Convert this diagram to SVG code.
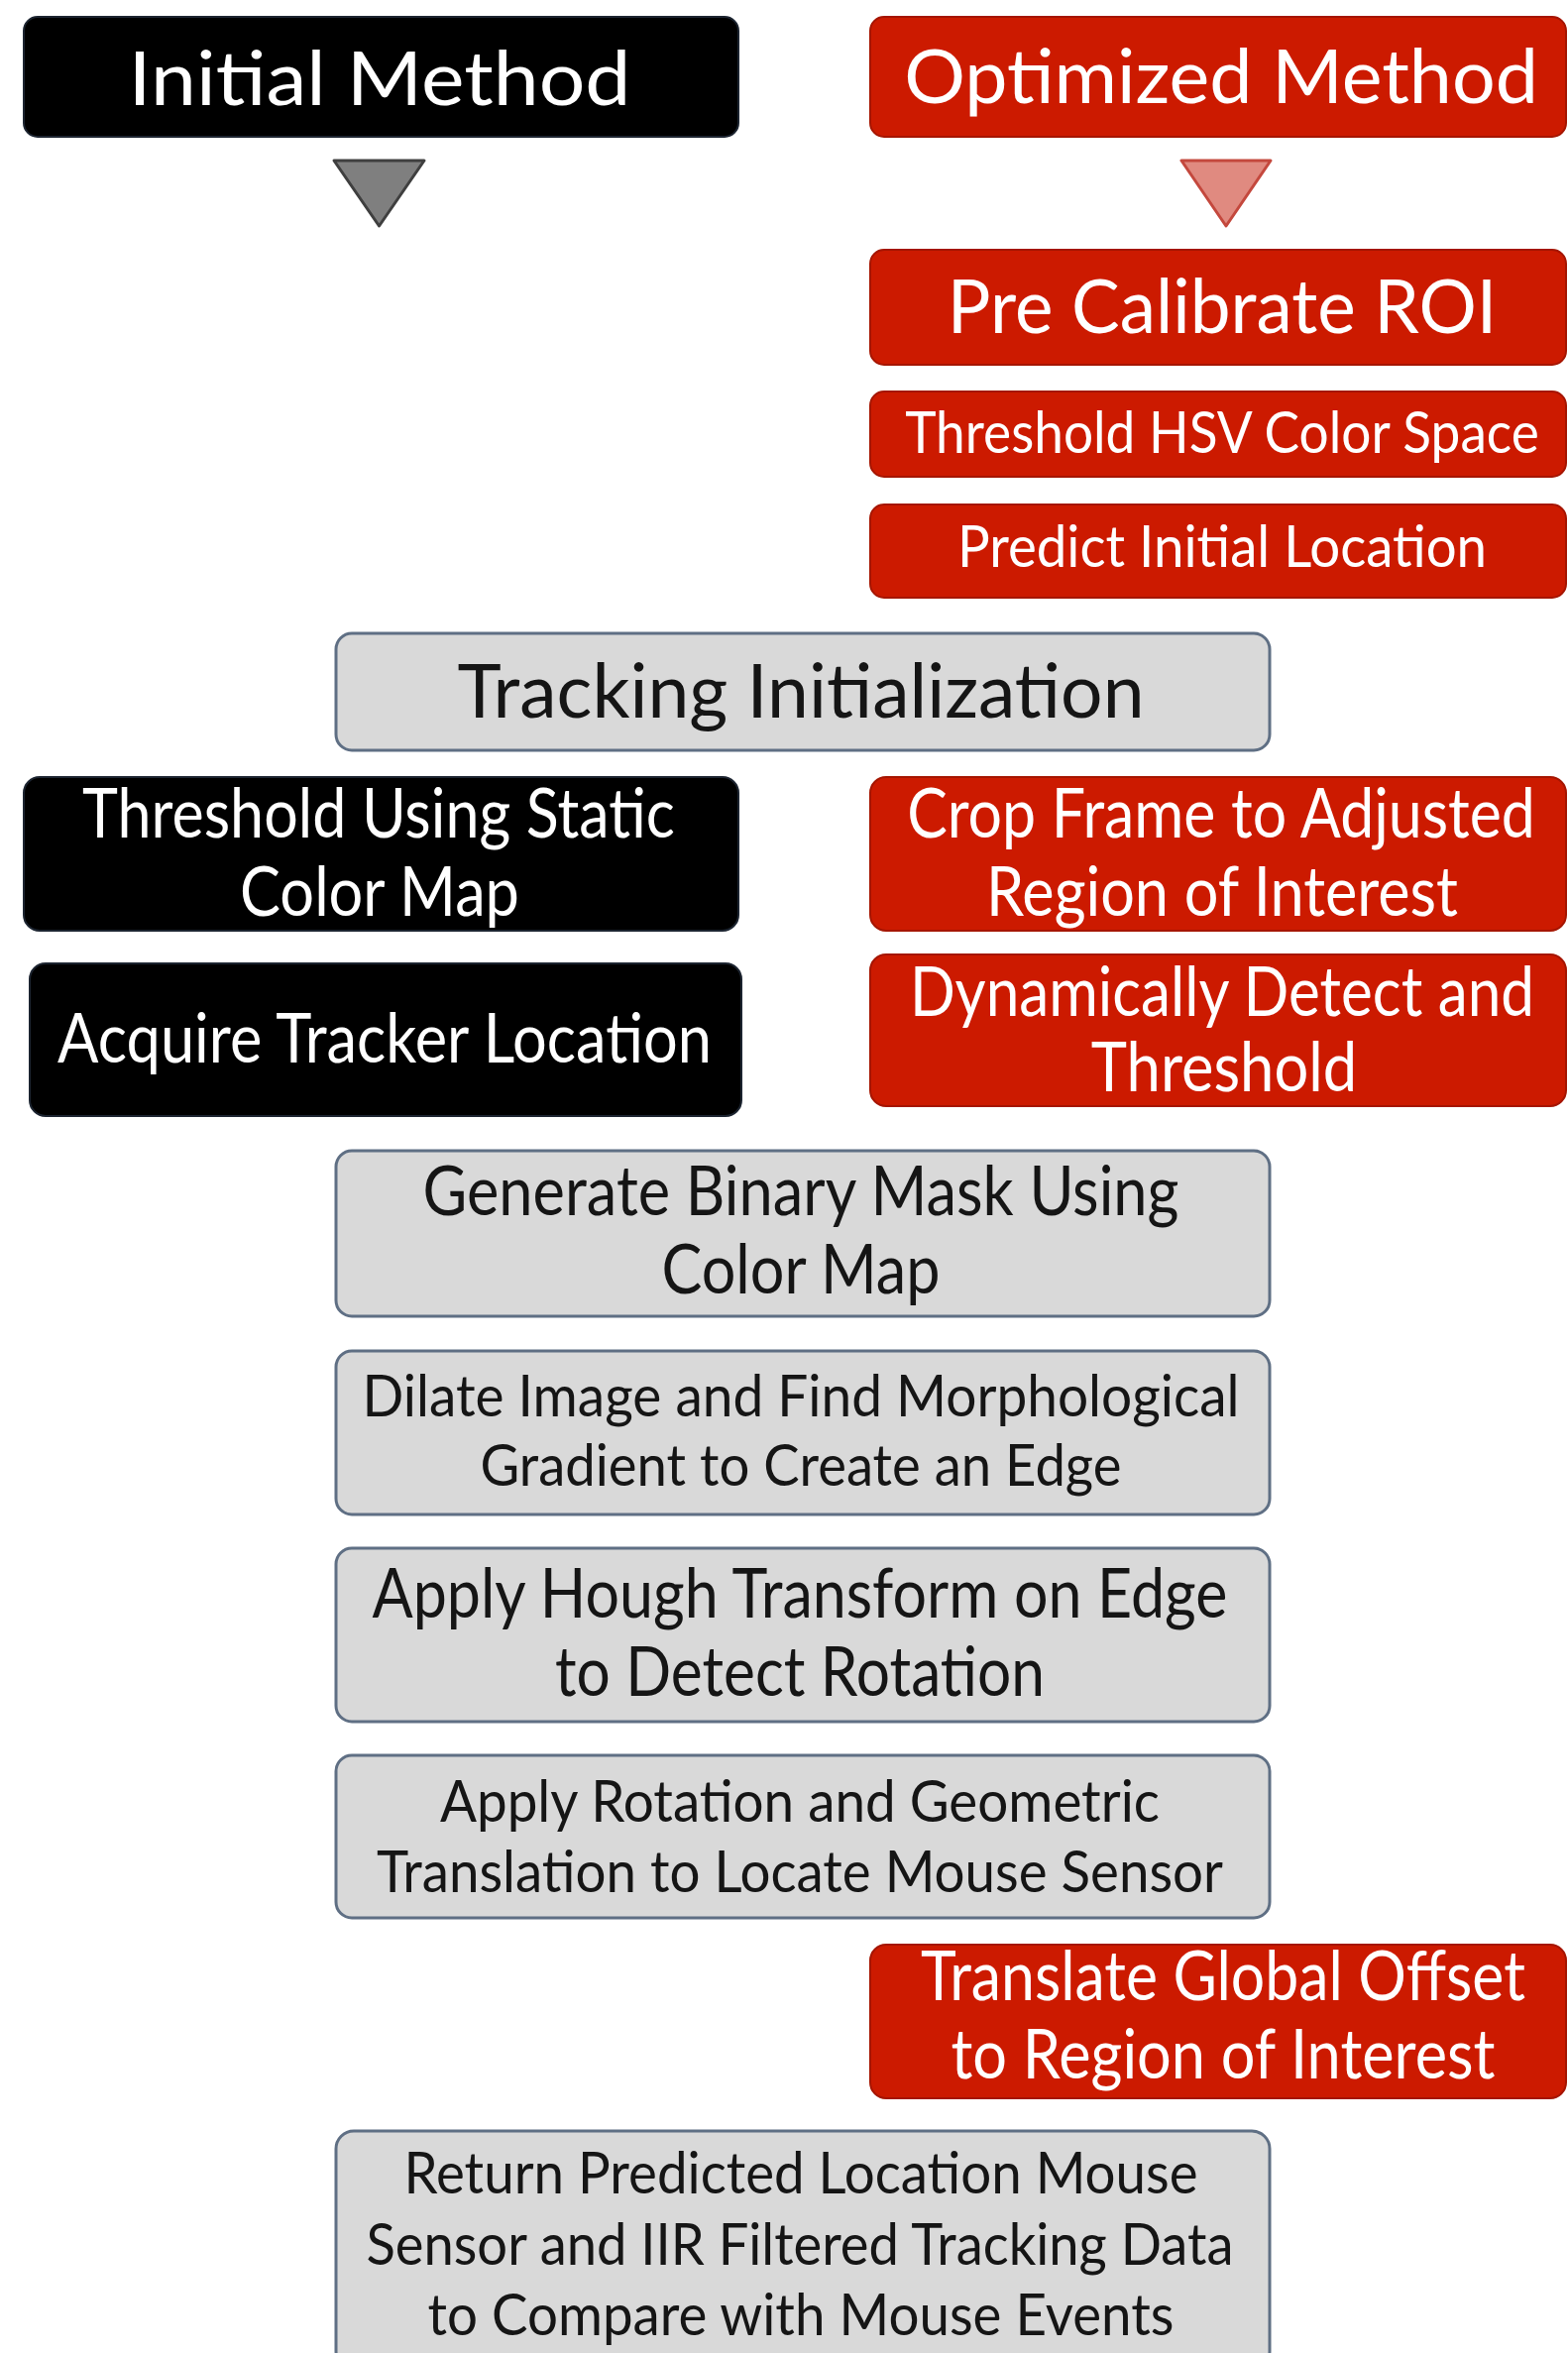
<svg xmlns="http://www.w3.org/2000/svg" width="1582" height="2374" viewBox="0 0 1582 2374">
<style>
.blk{fill:#000;stroke:#1c2430;stroke-width:2}
.red{fill:#CC1A00;stroke:#A51500;stroke-width:2}
.gry{fill:#D9D9D9;stroke:#5F6F84;stroke-width:3}
text{font-family:Lato,"Open Sans","Liberation Sans",sans-serif;text-anchor:middle}
.w{fill:#fff}
.k{fill:#151515}
.xl{font-size:75px}
.l{font-size:70px}
.m{font-size:58px}
</style>
<rect width="1582" height="2374" fill="#fff"/>
<g id="connectors">
<polygon points="337,162 428,162 382.5,228" fill="#7F7F7F" stroke="#3F3F3F" stroke-width="3" stroke-linejoin="round"/>
<polygon points="1192,162 1282,162 1237,228" fill="#E08A80" stroke="#C4483D" stroke-width="3" stroke-linejoin="round"/>
</g>
<g id="initial-method"><rect class="blk" x="24" y="17" width="721" height="121" rx="14"/><text class="w xl" x="383" y="106" textLength="507" lengthAdjust="spacingAndGlyphs">Initial Method</text></g>
<g id="optimized-method"><rect class="red" x="878" y="17" width="702" height="121" rx="14"/><text class="w xl" transform="translate(1232,104) scale(0.88,1)" x="0" y="0" textLength="727" lengthAdjust="spacingAndGlyphs">Optimized Method</text></g>
<g id="pre-calibrate-roi"><rect class="red" x="878" y="252" width="702" height="116" rx="14"/><text class="w xl" transform="translate(1233,336) scale(0.88,1)" x="0" y="0" textLength="630" lengthAdjust="spacingAndGlyphs">Pre Calibrate ROI</text></g>
<g id="threshold-hsv"><rect class="red" x="878" y="395" width="702" height="86" rx="14"/><text class="w m" transform="translate(1233,457) scale(0.88,1)" x="0" y="0" textLength="727" lengthAdjust="spacingAndGlyphs">Threshold HSV Color Space</text></g>
<g id="predict-initial-location"><rect class="red" x="878" y="509" width="702" height="94" rx="14"/><text class="w m" transform="translate(1233,572) scale(0.88,1)" x="0" y="0" textLength="607" lengthAdjust="spacingAndGlyphs">Predict Initial Location</text></g>
<g id="tracking-initialization"><rect class="gry" x="339" y="639" width="942" height="118" rx="16"/><text class="k xl" x="808" y="724" textLength="693" lengthAdjust="spacingAndGlyphs">Tracking Initialization</text></g>
<g id="threshold-static"><rect class="blk" x="24" y="784" width="721" height="155" rx="16"/><text class="w l" x="382" y="845" textLength="598" lengthAdjust="spacingAndGlyphs">Threshold Using Static</text><text class="w l" x="383" y="924" textLength="282" lengthAdjust="spacingAndGlyphs">Color Map</text></g>
<g id="acquire-tracker"><rect class="blk" x="30" y="972" width="718" height="154" rx="16"/><text class="w l" x="388" y="1072" textLength="660" lengthAdjust="spacingAndGlyphs">Acquire Tracker Location</text></g>
<g id="crop-frame"><rect class="red" x="878" y="784" width="702" height="155" rx="16"/><text class="w l" transform="translate(1232,845) scale(0.88,1)" x="0" y="0" textLength="720" lengthAdjust="spacingAndGlyphs">Crop Frame to Adjusted</text><text class="w l" transform="translate(1233,924) scale(0.88,1)" x="0" y="0" textLength="541" lengthAdjust="spacingAndGlyphs">Region of Interest</text></g>
<g id="dynamic-detect"><rect class="red" x="878" y="963" width="702" height="153" rx="16"/><text class="w l" transform="translate(1233,1025) scale(0.88,1)" x="0" y="0" textLength="716" lengthAdjust="spacingAndGlyphs">Dynamically Detect and</text><text class="w l" transform="translate(1235,1101) scale(0.88,1)" x="0" y="0" textLength="305" lengthAdjust="spacingAndGlyphs">Threshold</text></g>
<g id="binary-mask"><rect class="gry" x="339" y="1161" width="942" height="167" rx="16"/><text class="k l" x="808" y="1226" textLength="763" lengthAdjust="spacingAndGlyphs">Generate Binary Mask Using</text><text class="k l" x="808" y="1305" textLength="281" lengthAdjust="spacingAndGlyphs">Color Map</text></g>
<g id="dilate-image"><rect class="gry" x="339" y="1363" width="942" height="165" rx="16"/><text class="k m" x="808" y="1429" textLength="885" lengthAdjust="spacingAndGlyphs">Dilate Image and Find Morphological</text><text class="k m" x="808" y="1499" textLength="647" lengthAdjust="spacingAndGlyphs">Gradient to Create an Edge</text></g>
<g id="hough-transform"><rect class="gry" x="339" y="1562" width="942" height="175" rx="16"/><text class="k l" x="807" y="1632" textLength="863" lengthAdjust="spacingAndGlyphs">Apply Hough Transform on Edge</text><text class="k l" x="807" y="1711" textLength="494" lengthAdjust="spacingAndGlyphs">to Detect Rotation</text></g>
<g id="rotation-translation"><rect class="gry" x="339" y="1771" width="942" height="164" rx="16"/><text class="k m" x="807" y="1838" textLength="726" lengthAdjust="spacingAndGlyphs">Apply Rotation and Geometric</text><text class="k m" x="807" y="1909" textLength="854" lengthAdjust="spacingAndGlyphs">Translation to Locate Mouse Sensor</text></g>
<g id="global-offset"><rect class="red" x="878" y="1962" width="702" height="155" rx="16"/><text class="w l" transform="translate(1234,2018) scale(0.88,1)" x="0" y="0" textLength="693" lengthAdjust="spacingAndGlyphs">Translate Global Offset</text><text class="w l" transform="translate(1234,2097) scale(0.88,1)" x="0" y="0" textLength="624" lengthAdjust="spacingAndGlyphs">to Region of Interest</text></g>
<g id="return-predicted"><rect class="gry" x="339" y="2150" width="942" height="240" rx="18"/><text class="k m" x="808" y="2213" textLength="801" lengthAdjust="spacingAndGlyphs">Return Predicted Location Mouse</text><text class="k m" x="807" y="2285" textLength="875" lengthAdjust="spacingAndGlyphs">Sensor and IIR Filtered Tracking Data</text><text class="k m" x="808" y="2356" textLength="753" lengthAdjust="spacingAndGlyphs">to Compare with Mouse Events</text></g>
</svg>
